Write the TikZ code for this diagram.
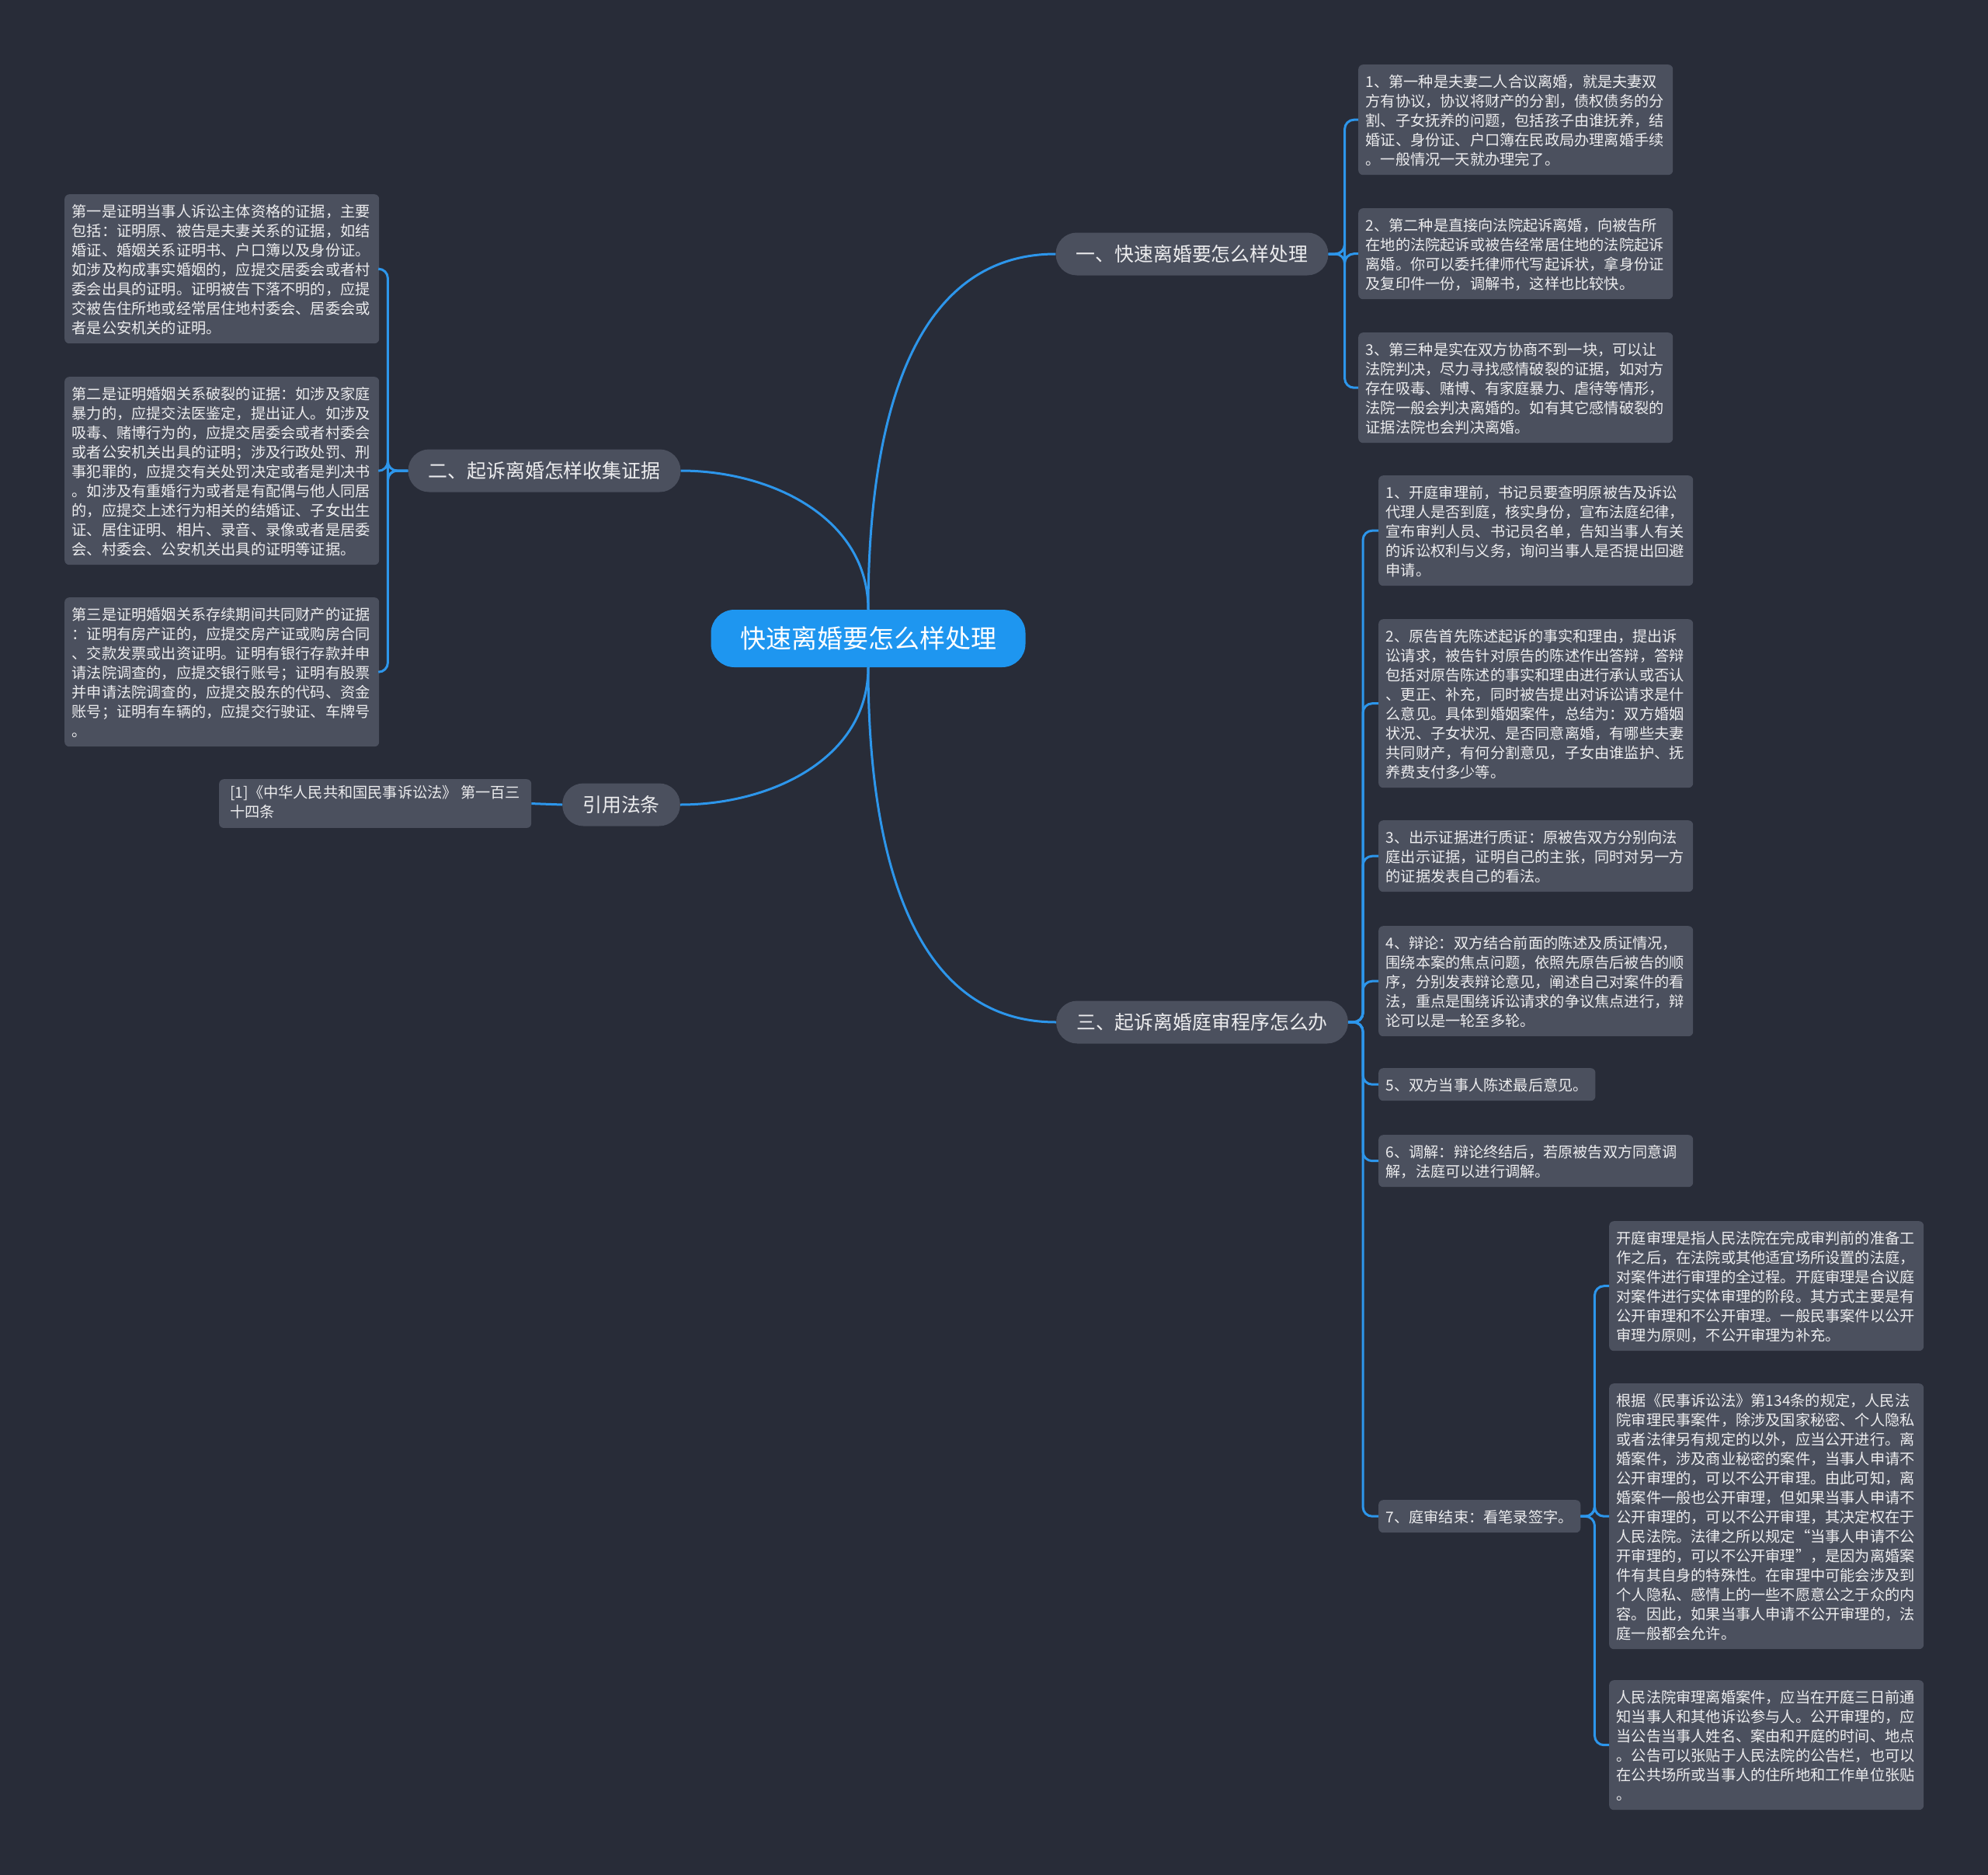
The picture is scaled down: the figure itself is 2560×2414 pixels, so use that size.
\documentclass[tikz,border=0pt]{standalone}
\usepackage{fontspec}
\setmainfont{Noto Sans CJK SC}
\usepackage{xcolor}
\usepackage{tikz}
\usetikzlibrary{positioning}
\definecolor{bgdark}{RGB}{40,44,56}
\definecolor{boxgray}{RGB}{75,80,94}
\definecolor{wireblue}{RGB}{45,150,235}
\definecolor{hubblue}{RGB}{30,150,240}
\definecolor{textlight}{RGB}{236,236,238}

\begin{document}
\begin{tikzpicture}[
        x=1pt, y=-1pt,
        hub/.style={rectangle, fill=hubblue, rounded corners=30pt, minimum width=405pt, minimum height=74pt, font=\fontsize{33}{40}\selectfont, text=white},
        subtopic/.style={rectangle, fill=boxgray, rounded corners=27pt, minimum height=55pt, inner xsep=26pt, font=\fontsize{24.9}{30}\selectfont, text=textlight},
        note/.style={rectangle, fill=boxgray, rounded corners=6pt, anchor=north west, align=left, inner xsep=9.5pt, inner ysep=8.5pt, font=\fontsize{19.2}{25}\selectfont, text=textlight, execute at begin node={\rule{0pt}{20.5pt}}, execute at end node={\rule[-4.5pt]{0pt}{4.5pt}}},
        notewide/.style={note, text width=386pt},
        wire/.style={draw=wireblue, line width=3pt, rounded corners=12pt}
    ]

    \fill[bgdark] (0,0) rectangle (2560,2414);
    \useasboundingbox (0,0) rectangle (2560,2414);

    \node[hub] (root) at (1118,822) {快速离婚要怎么样处理};

    \node[subtopic] (divorce) at (1535,327) {一、快速离婚要怎么样处理};
    \node[subtopic] (evidence) at (701,606) {二、起诉离婚怎样收集证据};
    \node[subtopic] (statute) at (800,1036) {引用法条};
    \node[subtopic] (trial) at (1548,1316) {三、起诉离婚庭审程序怎么办};

    % 一
    \node[notewide] (agree) at (1749,83) {1、第一种是夫妻二人合议离婚，就是夫妻双\\方有协议，协议将财产的分割，债权债务的分\\割、子女抚养的问题，包括孩子由谁抚养，结\\婚证、身份证、户口簿在民政局办理离婚手续\\。一般情况一天就办理完了。};
    \node[notewide] (sue) at (1749,268) {2、第二种是直接向法院起诉离婚，向被告所\\在地的法院起诉或被告经常居住地的法院起诉\\离婚。你可以委托律师代写起诉状，拿身份证\\及复印件一份，调解书，这样也比较快。};
    \node[notewide] (judge) at (1749,428) {3、第三种是实在双方协商不到一块，可以让\\法院判决，尽力寻找感情破裂的证据，如对方\\存在吸毒、赌博、有家庭暴力、虐待等情形，\\法院一般会判决离婚的。如有其它感情破裂的\\证据法院也会判决离婚。};

    % 二
    \node[notewide] (proofA) at (83,250) {第一是证明当事人诉讼主体资格的证据，主要\\包括：证明原、被告是夫妻关系的证据，如结\\婚证、婚姻关系证明书、户口簿以及身份证。\\如涉及构成事实婚姻的，应提交居委会或者村\\委会出具的证明。证明被告下落不明的，应提\\交被告住所地或经常居住地村委会、居委会或\\者是公安机关的证明。};
    \node[notewide] (proofB) at (83,485) {第二是证明婚姻关系破裂的证据：如涉及家庭\\暴力的，应提交法医鉴定，提出证人。如涉及\\吸毒、赌博行为的，应提交居委会或者村委会\\或者公安机关出具的证明；涉及行政处罚、刑\\事犯罪的，应提交有关处罚决定或者是判决书\\。如涉及有重婚行为或者是有配偶与他人同居\\的，应提交上述行为相关的结婚证、子女出生\\证、居住证明、相片、录音、录像或者是居委\\会、村委会、公安机关出具的证明等证据。};
    \node[notewide] (proofC) at (83,769) {第三是证明婚姻关系存续期间共同财产的证据\\：证明有房产证的，应提交房产证或购房合同\\、交款发票或出资证明。证明有银行存款并申\\请法院调查的，应提交银行账号；证明有股票\\并申请法院调查的，应提交股东的代码、资金\\账号；证明有车辆的，应提交行驶证、车牌号\\。};

    \node[note, minimum width=402pt] (cite) at (282,1003) {[1]《中华人民共和国民事诉讼法》 第一百三\\十四条};

    % 三
    \node[notewide] (open) at (1775,612) {1、开庭审理前，书记员要查明原被告及诉讼\\代理人是否到庭，核实身份，宣布法庭纪律，\\宣布审判人员、书记员名单，告知当事人有关\\的诉讼权利与义务，询问当事人是否提出回避\\申请。};
    \node[notewide] (plead) at (1775,797) {2、原告首先陈述起诉的事实和理由，提出诉\\讼请求，被告针对原告的陈述作出答辩，答辩\\包括对原告陈述的事实和理由进行承认或否认\\、更正、补充，同时被告提出对诉讼请求是什\\么意见。具体到婚姻案件，总结为：双方婚姻\\状况、子女状况、是否同意离婚，有哪些夫妻\\共同财产，有何分割意见，子女由谁监护、抚\\养费支付多少等。};
    \node[notewide] (exam) at (1775,1056) {3、出示证据进行质证：原被告双方分别向法\\庭出示证据，证明自己的主张，同时对另一方\\的证据发表自己的看法。};
    \node[notewide] (debate) at (1775,1192) {4、辩论：双方结合前面的陈述及质证情况，\\围绕本案的焦点问题，依照先原告后被告的顺\\序，分别发表辩论意见，阐述自己对案件的看\\法，重点是围绕诉讼请求的争议焦点进行，辩\\论可以是一轮至多轮。};
    \node[note] (final) at (1775,1375) {5、双方当事人陈述最后意见。};
    \node[notewide] (mediate) at (1775,1461) {6、调解：辩论终结后，若原被告双方同意调\\解，法庭可以进行调解。};
    \node[note] (close) at (1775,1931) {7、庭审结束：看笔录签字。};

    \node[notewide] (define) at (2072,1572) {开庭审理是指人民法院在完成审判前的准备工\\作之后，在法院或其他适宜场所设置的法庭，\\对案件进行审理的全过程。开庭审理是合议庭\\对案件进行实体审理的阶段。其方式主要是有\\公开审理和不公开审理。一般民事案件以公开\\审理为原则，不公开审理为补充。};
    \node[notewide] (privacy) at (2072,1781) {根据《民事诉讼法》第134条的规定，人民法\\院审理民事案件，除涉及国家秘密、个人隐私\\或者法律另有规定的以外，应当公开进行。离\\婚案件，涉及商业秘密的案件，当事人申请不\\公开审理的，可以不公开审理。由此可知，离\\婚案件一般也公开审理，但如果当事人申请不\\公开审理的，可以不公开审理，其决定权在于\\人民法院。法律之所以规定“当事人申请不公\\开审理的，可以不公开审理”，是因为离婚案\\件有其自身的特殊性。在审理中可能会涉及到\\个人隐私、感情上的一些不愿意公之于众的内\\容。因此，如果当事人申请不公开审理的，法\\庭一般都会允许。};
    \node[notewide] (notice) at (2072,2163) {人民法院审理离婚案件，应当在开庭三日前通\\知当事人和其他诉讼参与人。公开审理的，应\\当公告当事人姓名、案由和开庭的时间、地点\\。公告可以张贴于人民法院的公告栏，也可以\\在公共场所或当事人的住所地和工作单位张贴\\。};

    \draw[wire] (root.north) to[out=90, in=180] (divorce.west);
    \draw[wire] (root.north) to[out=90, in=0] (evidence.east);
    \draw[wire] (root.south) to[out=-90, in=0] (statute.east);
    \draw[wire] (root.south) to[out=-90, in=180] (trial.west);

    \foreach \leaf in {agree, sue, judge}
        \draw[wire] (divorce.east) -- ++(21,0) |- (\leaf.west);
    \foreach \leaf in {proofA, proofB, proofC}
        \draw[wire] (evidence.west) -- ++(-26,0) |- (\leaf.east);
    \draw[wire] (statute.west) -- (cite.east);
    \foreach \leaf in {open, plead, exam, debate, final, mediate, close}
        \draw[wire] (trial.east) -- ++(19,0) |- (\leaf.west);
    \foreach \leaf in {define, privacy, notice}
        \draw[wire] (close.east) -- ++(18,0) |- (\leaf.west);

\end{tikzpicture}
\end{document}
